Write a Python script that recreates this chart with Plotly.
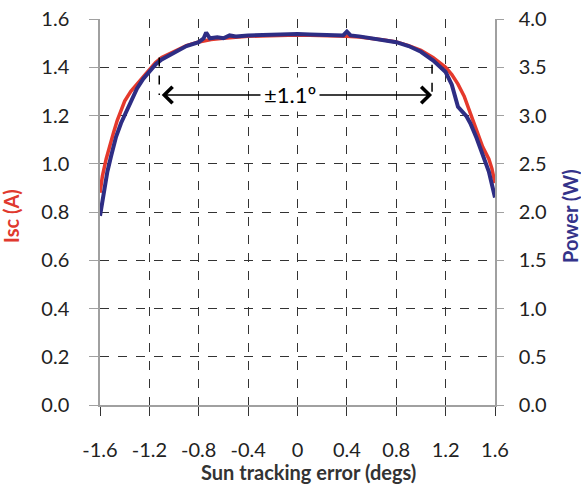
import plotly.graph_objects as go

# Isc (A) on left axis
x_isc = [-1.6, -1.58, -1.55, -1.52, -1.49, -1.46, -1.44, -1.40, -1.35, -1.30, -1.25, -1.20, -1.15, -1.10,
         -1.0, -0.9, -0.8, -0.7, -0.6, -0.5, -0.4, -0.3, -0.2, -0.1, 0.0, 0.1, 0.2, 0.3, 0.4, 0.5, 0.6,
         0.7, 0.8, 0.9, 1.0, 1.1, 1.2, 1.25, 1.3, 1.35, 1.40, 1.45, 1.50, 1.55, 1.575, 1.60]
isc = [0.88, 0.95, 1.02, 1.08, 1.13, 1.18, 1.21, 1.26, 1.30, 1.33, 1.36, 1.39, 1.42, 1.44,
       1.465, 1.49, 1.505, 1.515, 1.52, 1.525, 1.528, 1.53, 1.532, 1.533, 1.534, 1.533, 1.532, 1.53, 1.528, 1.525, 1.52,
       1.513, 1.505, 1.49, 1.47, 1.44, 1.40, 1.37, 1.33, 1.28, 1.21, 1.14, 1.07, 1.02, 0.98, 0.92]

# Power (W) on right axis
x_pow = [-1.6, -1.57, -1.54, -1.51, -1.47, -1.43, -1.40, -1.35, -1.30, -1.25, -1.20, -1.15, -1.10,
         -1.0, -0.9, -0.8, -0.76, -0.74, -0.71, -0.65, -0.6, -0.55, -0.5, -0.4, -0.3, -0.2, -0.1, 0.0,
         0.1, 0.2, 0.3, 0.37, 0.40, 0.43, 0.5, 0.6, 0.7, 0.8, 0.9, 1.0, 1.1, 1.2, 1.25, 1.30, 1.37,
         1.40, 1.45, 1.50, 1.55, 1.60]
power = [1.96, 2.20, 2.42, 2.58, 2.78, 2.92, 3.00, 3.15, 3.28, 3.38, 3.46, 3.53, 3.58,
         3.65, 3.72, 3.76, 3.80, 3.86, 3.80, 3.81, 3.80, 3.83, 3.82, 3.83, 3.835, 3.84, 3.84, 3.845,
         3.84, 3.835, 3.83, 3.83, 3.87, 3.83, 3.82, 3.80, 3.78, 3.76, 3.72, 3.66, 3.57, 3.45, 3.32, 3.09, 2.99,
         2.92, 2.77, 2.60, 2.42, 2.15]

x_ticks = [-1.6, -1.2, -0.8, -0.4, 0, 0.4, 0.8, 1.2, 1.6]
x_ticklabels = ["-1.6", "-1.2", "-0.8", "-0.4", "0", "0.4", "0.8", "1.2", "1.6"]

# tolerance marker
tol_left, tol_right = -1.12, 1.09
arrow_y = 1.285
marker_top = [1.44, 1.41]
tol_label = "±1.1º"

RED = "#e5392c"
BLUE = "#2e2d84"
FONT = "Lato"

fig = go.Figure()
fig.add_trace(go.Scatter(x=x_isc, y=isc, mode="lines", line=dict(color=RED, width=3.5),
                         name="Isc", showlegend=False))
fig.add_trace(go.Scatter(x=x_pow, y=power, mode="lines", line=dict(color=BLUE, width=4),
                         name="Power", yaxis="y2", showlegend=False))

# dashed markers
for xv, yt in zip([tol_left, tol_right], marker_top):
    fig.add_shape(type="line", x0=xv, x1=xv, y0=yt, y1=arrow_y, xref="x", yref="y",
                  line=dict(color="black", width=1.5, dash="dash"))

# double arrow
mid = (tol_left + tol_right) / 2
for end in [tol_left + 0.02, tol_right]:
    fig.add_annotation(x=end, y=arrow_y, ax=mid, ay=arrow_y, xref="x", yref="y",
                       axref="x", ayref="y", text="", showarrow=True,
                       arrowhead=4, arrowsize=2, arrowwidth=1.6, arrowcolor="black")
fig.add_annotation(x=-0.06, y=arrow_y, xref="x", yref="y", text=tol_label, showarrow=False,
                   bgcolor="white", font=dict(family=FONT, size=22, color="black"), borderpad=3)

axis_gray = "#a0a0a0"
grid = "#333333"

fig.update_layout(
    width=581, height=494,
    margin=dict(l=100, r=86, t=19, b=89),
    paper_bgcolor="white", plot_bgcolor="white",
    font=dict(family=FONT, size=20, color="#222"),
    xaxis=dict(range=[-1.6, 1.6], tickvals=x_ticks, ticktext=x_ticklabels,
               showgrid=True, gridcolor=grid, gridwidth=1.2, griddash="dash",
               showline=True, linecolor=axis_gray, linewidth=1.5,
               ticks="outside", ticklen=9, tickcolor=grid, tickwidth=1,
               ticklabelstandoff=17, zeroline=False, automargin=False,
               tickfont=dict(family=FONT, size=20, color="#222")),
    yaxis=dict(range=[0, 1.6], dtick=0.2, tickformat=".1f",
               showgrid=True, gridcolor=grid, gridwidth=1.2, griddash="dash",
               showline=True, linecolor=axis_gray, linewidth=1.5,
               ticks="outside", ticklen=9, tickcolor=axis_gray,
               ticklabelstandoff=16, zeroline=False, automargin=False,
               tickfont=dict(family=FONT, size=20, color="#222")),
    yaxis2=dict(range=[0, 4], dtick=0.5, tickformat=".1f", overlaying="y", side="right",
                showgrid=False, showline=True, linecolor=axis_gray, linewidth=1.5,
                ticks="outside", ticklen=7, tickcolor=axis_gray,
                ticklabelstandoff=11, zeroline=False, automargin=False,
                tickfont=dict(family=FONT, size=20, color="#222")),
)

fig.add_annotation(x=0.527, y=-0.174, xref="paper", yref="paper", text="<b>Sun tracking error (degs)</b>",
                   showarrow=False, xanchor="center", yanchor="middle",
                   font=dict(family=FONT, size=20, color="#333"))
fig.add_annotation(x=-0.225, y=0.49, xref="paper", yref="paper", text="<b>Isc (A)</b>", textangle=-90,
                   showarrow=False, xanchor="center", yanchor="middle",
                   font=dict(family=FONT, size=20, color="#e0392e"))
fig.add_annotation(x=1.19, y=0.49, xref="paper", yref="paper", text="<b>Power (W)</b>", textangle=-90,
                   showarrow=False, xanchor="center", yanchor="middle",
                   font=dict(family=FONT, size=20, color="#34338a"))

fig.write_html("out.html")
